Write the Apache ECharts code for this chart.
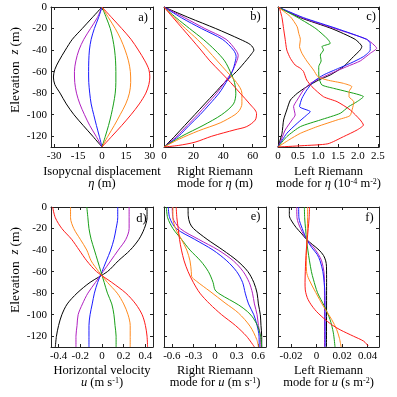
<!DOCTYPE html>
<html>
<head>
<meta charset="utf-8">
<script src="https://cdn.jsdelivr.net/npm/echarts@6/dist/echarts.min.js"></script>
<style>
  html, body { margin: 0; padding: 0; background: #fff; }
  #chart { width: 397px; height: 397px; }
</style>
</head>
<body>
<div id="chart"></div>
<script>
// every curve is a list of [value, elevation z (m)], ordered black, purple, blue, green, orange, red
const depthTicks = [0, -20, -40, -60, -80, -100, -120];
const dispTicks = [-30, -15, 0, 15, 30];
const rightEtaTicks = [0, 20, 40, 60];
const leftEtaTicks = [0, 0.5, 1.0, 1.5, 2.0, 2.5];
const velTicks = [-0.4, -0.2, 0, 0.2, 0.4];
const rightUTicks = [-0.6, -0.3, 0, 0.3, 0.6];
const leftUTicks = [-0.02, 0, 0.02, 0.04];

// a) isopycnal displacement eta (m)
const isopycnalDisp = [
  [[0,0],[-6.2,-10],[-12.4,-20],[-18.6,-30],[-23,-40],[-27,-50],[-29.6,-58],[-30.5,-65],[-29.6,-72],[-26.3,-80],[-22.4,-90],[-17.6,-100],[-11.8,-110],[-5.8,-120],[0,-130]],
  [[0,0],[-3,-10],[-7.2,-20],[-11.4,-30],[-14.5,-40],[-16.4,-50],[-17.3,-60],[-17.1,-70],[-16,-80],[-13.9,-90],[-11,-100],[-7.7,-110],[-3.7,-120],[0,-130]],
  [[0,0],[-2.2,-10],[-4.8,-20],[-6.8,-30],[-7.9,-40],[-8.3,-50],[-8.4,-60],[-8.3,-70],[-7.7,-80],[-6.8,-90],[-5.2,-100],[-3.5,-110],[-1.7,-120],[0,-130]],
  [[0,0],[2.7,-10],[5.2,-20],[6.8,-30],[7.9,-40],[8.5,-50],[8.7,-60],[8.7,-70],[8.3,-80],[7.2,-90],[5.8,-100],[4.1,-110],[2.1,-120],[0,-130]],
  [[0,0],[4.1,-10],[8.3,-20],[11.8,-30],[14.5,-40],[16.6,-50],[17.8,-60],[18,-70],[17.2,-80],[14.9,-90],[11.4,-100],[7.7,-110],[3.7,-120],[0,-130]],
  [[0,0],[6.2,-10],[12.4,-20],[18.2,-30],[22.8,-40],[26.9,-50],[29.4,-58],[30,-65],[29.4,-72],[27.5,-80],[23.4,-90],[18.2,-100],[12.4,-110],[6.2,-120],[0,-130]]
];

// b) right Riemann mode for eta (m)
const rightEta = [
  [[0,0],[17,-10],[35,-20],[51.5,-30],[58.5,-35],[60.8,-40],[59.5,-43],[56,-49],[49,-60],[41,-70],[34.3,-80],[27.5,-90],[20.8,-100],[14,-110],[7.3,-120],[0,-130]],
  [[0,0],[14,-10],[27.6,-20],[42,-30],[48.5,-40],[50.2,-45],[49.3,-50],[46,-60],[41,-70],[35.7,-80],[29.2,-90],[22.8,-100],[15.7,-110],[8.7,-120],[0,-130]],
  [[0,0],[11.8,-10],[25.3,-20],[39.5,-30],[47,-40],[48.8,-46],[48.3,-50],[46.2,-60],[42,-70],[37.3,-80],[31,-90],[24.4,-100],[17,-110],[9.8,-120],[0,-130]],
  [[0,0],[8.2,-10],[17.3,-20],[26.5,-30],[34.5,-40],[41,-50],[44.8,-60],[47.7,-70],[48.6,-80],[47,-90],[39,-100],[26.4,-110],[12,-120],[0,-130]],
  [[0,0],[7,-10],[14.5,-20],[22.5,-30],[29.5,-40],[36,-50],[42.5,-60],[49,-70],[52.7,-80],[52.7,-90],[51,-96],[48,-100],[38,-107.6],[23.3,-115],[9.8,-123],[0,-130]],
  [[0,0],[6.2,-10],[12.5,-20],[18.8,-30],[25,-40],[31,-50],[38,-60],[45,-70],[51.5,-80],[58,-90],[62.6,-99],[61.7,-105],[56,-111],[48,-114],[32.3,-120],[21,-125.5],[10,-128.5],[0,-130]]
];

// c) left Riemann mode for eta (1e-4 m^-2)
const leftEta = [
  [[0,0],[0.56,-9.9],[1.35,-20.1],[1.93,-30],[2.1,-36.8],[2.06,-39.9],[1.89,-46.1],[1.64,-55.4],[1.31,-63.1],[1.02,-67.8],[0.72,-74],[0.48,-80.2],[0.31,-86.4],[0.22,-95.6],[0.14,-104.9],[0.1,-117.3],[0,-130]],
  [[0,0],[0.6,-9.9],[1.43,-20.1],[2.22,-30],[2.47,-38.4],[2.31,-43],[2.06,-50.1],[1.72,-55.4],[1.43,-60],[1.06,-66.2],[0.81,-70.9],[0.64,-77.1],[0.48,-86.4],[0.39,-92.5],[0.43,-100.3],[0.35,-104.9],[0.18,-114.2],[0.08,-123.5],[0,-130]],
  [[0,0],[0.64,-9.9],[1.48,-20.1],[2.22,-30],[2.31,-33.7],[2.31,-39.9],[2.14,-46.1],[1.81,-52.3],[1.52,-56.9],[1.14,-63.1],[0.89,-69.3],[0.72,-77.1],[0.6,-84.8],[0.54,-92.5],[0.81,-97.2],[0.72,-100.3],[0.48,-108],[0.22,-117.3],[0,-130]],
  [[0,0],[0.5,-9.9],[0.95,-20.1],[1.25,-30],[1.31,-33.7],[1.1,-36.8],[1.14,-39.9],[1.06,-44.6],[1.08,-50.1],[1.02,-55.4],[1.02,-60],[1.03,-66.2],[1.1,-72.4],[1.39,-75.5],[1.73,-78.6],[2.14,-83.3],[1.98,-87.9],[1.77,-92.5],[1.56,-98.7],[1.06,-104.9],[0.56,-111.1],[0.22,-120.4],[0,-130]],
  [[0,0],[0.31,-9],[0.48,-18.3],[0.52,-24.5],[0.56,-30],[0.54,-36.8],[0.6,-43],[0.72,-50.1],[0.89,-58.5],[1.0,-64.7],[1.23,-67.8],[1.64,-70.9],[1.85,-74],[1.78,-78.6],[1.78,-83.3],[1.9,-88],[1.86,-95],[1.8,-101],[1.48,-104.9],[0.98,-111.1],[0.56,-117.3],[0.27,-123.5],[0,-130]],
  [[0.03,0],[0.1,-9.9],[0.14,-20.1],[0.18,-30],[0.22,-39.9],[0.31,-47.7],[0.43,-53.9],[0.56,-56.9],[0.64,-60],[0.72,-67.8],[0.85,-74],[1.14,-83.3],[1.48,-87.9],[1.81,-95.6],[2.06,-104.9],[2.14,-109.6],[1.98,-114.2],[1.64,-120.4],[1.25,-127],[0.6,-128.8],[0,-130]]
];

// d) horizontal velocity u (m/s)
const horizVel = [
  [[0.415,0],[0.415,-10],[0.39,-20],[0.34,-30],[0.26,-40],[0.15,-50],[0.05,-60],[-0.11,-70],[-0.23,-80],[-0.32,-90],[-0.37,-100],[-0.4,-110],[-0.42,-120],[-0.43,-130]],
  [[0.25,0],[0.25,-10],[0.25,-20],[0.22,-30],[0.15,-40],[0.08,-50],[0.01,-60],[-0.06,-70],[-0.13,-80],[-0.18,-90],[-0.22,-100],[-0.23,-110],[-0.24,-120],[-0.24,-130]],
  [[0.145,0],[0.145,-10],[0.13,-20],[0.11,-30],[0.08,-40],[0.04,-50],[0,-60],[-0.04,-70],[-0.07,-80],[-0.09,-90],[-0.11,-100],[-0.12,-110],[-0.12,-120],[-0.12,-130]],
  [[-0.14,0],[-0.13,-10],[-0.12,-20],[-0.1,-30],[-0.07,-40],[-0.04,-50],[-0.01,-60],[0.02,-70],[0.05,-80],[0.09,-90],[0.11,-100],[0.12,-110],[0.13,-120],[0.13,-130]],
  [[-0.29,0],[-0.29,-10],[-0.26,-20],[-0.2,-30],[-0.14,-40],[-0.1,-50],[-0.03,-60],[0.05,-70],[0.14,-80],[0.2,-90],[0.24,-100],[0.26,-110],[0.26,-120],[0.26,-130]],
  [[-0.455,0],[-0.43,-10],[-0.37,-20],[-0.28,-30],[-0.21,-40],[-0.14,-50],[-0.05,-60],[0.09,-70],[0.22,-80],[0.31,-90],[0.37,-100],[0.4,-110],[0.415,-120],[0.42,-130]]
];

// e) right Riemann mode for u (m/s)
const rightU = [
  [[-0.375,0],[-0.373,-8],[-0.35,-15],[-0.3,-20],[-0.11,-30],[0.11,-40],[0.311,-50],[0.458,-60],[0.54,-70],[0.586,-80],[0.604,-90],[0.631,-100],[0.64,-110],[0.65,-120],[0.65,-130]],
  [[-0.595,0],[-0.586,-10],[-0.485,-20],[-0.229,-30],[0.046,-40],[0.256,-50],[0.393,-60],[0.476,-70],[0.522,-80],[0.549,-90],[0.586,-100],[0.604,-110],[0.631,-120],[0.631,-130]],
  [[-0.65,0],[-0.631,-10],[-0.54,-20],[-0.284,-30],[-0.027,-40],[0.165,-50],[0.302,-60],[0.384,-70],[0.421,-80],[0.467,-90],[0.54,-100],[0.586,-110],[0.613,-120],[0.615,-130]],
  [[-0.677,0],[-0.659,-10],[-0.586,-20],[-0.467,-30],[-0.348,-40],[-0.201,-50],[-0.092,-60],[-0.027,-70],[0,-77],[0.07,-81],[0.2,-86],[0.33,-91],[0.45,-97],[0.52,-102],[0.59,-110],[0.635,-120],[0.65,-130]],
  [[-0.586,0],[-0.586,-10],[-0.549,-20],[-0.467,-30],[-0.393,-40],[-0.348,-50],[-0.33,-60],[-0.326,-64.4],[-0.256,-69],[-0.07,-78.3],[0.14,-89.1],[0.326,-98.4],[0.489,-110.8],[0.582,-123.2],[0.605,-130]],
  [[-0.54,0],[-0.531,-10],[-0.512,-20],[-0.494,-30],[-0.467,-40],[-0.43,-50],[-0.375,-60],[-0.302,-70],[-0.21,-80],[-0.073,-90],[0.092,-100],[0.284,-110],[0.439,-120],[0.549,-130]]
];

// f) left Riemann mode for u (s m^-2)
const leftU = [
  [[-0.0213,0],[-0.0213,-8],[-0.0195,-13],[-0.016,-19],[-0.0115,-25],[-0.0076,-30.4],[-0.003,-35],[0.002,-40],[0.0055,-45],[0.0072,-50],[0.0078,-55],[0.0079,-70],[0.0078,-130]],
  [[-0.0155,0],[-0.0153,-10],[-0.0125,-20],[-0.0076,-30.4],[-0.002,-38],[0.0015,-44],[0.004,-50],[0.0058,-60],[0.0062,-70],[0.0063,-130]],
  [[-0.014,0],[-0.0138,-10],[-0.0112,-20],[-0.0076,-30.4],[-0.0035,-38],[0.0005,-44],[0.0028,-50],[0.005,-60],[0.006,-70],[0.0066,-80],[0.0068,-130]],
  [[-0.0095,0],[-0.0093,-10],[-0.0086,-20],[-0.0078,-30.4],[-0.0068,-40],[-0.0055,-50],[-0.004,-60],[-0.0025,-67],[0.0008,-79.6],[0.0061,-92],[0.0106,-104.5],[0.0132,-116.9],[0.0145,-130]],
  [[-0.007,0],[-0.007,-10],[-0.0072,-20],[-0.0075,-30.4],[-0.0078,-40],[-0.008,-50],[-0.0078,-60],[-0.006,-67],[-0.0005,-79.6],[0.0053,-92],[0.0119,-104.5],[0.0158,-113.8],[0.018,-122],[0.0193,-130]],
  [[-0.0055,0],[-0.0058,-10],[-0.0065,-20],[-0.0073,-30.4],[-0.008,-40],[-0.0085,-50],[-0.0088,-60],[-0.009,-70],[-0.0088,-77],[-0.0066,-86],[-0.0013,-95.3],[0.0053,-103],[0.0119,-109.3],[0.0185,-114],[0.029,-120],[0.037,-124.6],[0.0405,-129]]
];

const curveColors = ['#000000', '#b020c0', '#1a1aff', '#18a018', '#ff8a1e', '#ff1a1a'];
const serif = '"Liberation Serif", "Times New Roman", serif';
const frameColor = '#222';

const panels = [
  { curves: isopycnalDisp, min: -32, max: 32, ticks: dispTicks, box: [51, 7, 102, 140], letter: 'a)', lp: [143, 18], smooth: 0.3,
    t1: 'Isopycnal displacement', t2: '{i|η} (m)' },
  { curves: rightEta, min: 0, max: 69, ticks: rightEtaTicks, box: [164, 7, 102, 140], letter: 'b)', lp: [255.5, 17], smooth: 0.3,
    t1: 'Right Riemann', t2: 'mode for {i|η} (m)' },
  { curves: leftEta, min: 0, max: 2.53, ticks: leftEtaTicks, box: [278, 7, 101, 140], letter: 'c)', lp: [371, 17], smooth: 0.2,
    fmt: v => (v === 0 ? '0' : v.toFixed(1)),
    t1: 'Left Riemann', t2: 'mode for {i|η} (10{s|-4} m{s|-2})' },
  { curves: horizVel, min: -0.47, max: 0.47, ticks: velTicks, box: [51, 207, 102, 140], letter: 'd)', lp: [141.5, 219], smooth: 0.3,
    t1: 'Horizontal velocity', t2: '{i|u} (m s{s|-1})' },
  { curves: rightU, min: -0.71, max: 0.71, ticks: rightUTicks, box: [164, 207, 102, 140], letter: 'e)', lp: [255.5, 217], smooth: 0.3,
    t1: 'Right Riemann', t2: 'mode for {i|u} (m s{s|-1})' },
  { curves: leftU, min: -0.0302, max: 0.049, ticks: leftUTicks, box: [278, 207, 101, 140], letter: 'f)', lp: [369.5, 218], smooth: 0.3,
    t1: 'Left Riemann', t2: 'mode for {i|u} (s m{s|-2})' }
];

const rich = {
  i: { fontFamily: serif, fontSize: 12.5, fontStyle: 'italic' },
  s: { fontFamily: serif, fontSize: 8, verticalAlign: 'top' }
};

function txt(x, y, text, size, extra) {
  return Object.assign({
    type: 'text', x: x, y: y, silent: true,
    style: { text: text, rich: rich, fontFamily: serif, fontSize: size, fill: '#000', align: 'center', verticalAlign: 'middle' }
  }, extra || {});
}

var grids = [], xAxes = [], yAxes = [], series = [], graphics = [];

panels.forEach(function (p, k) {
  grids.push({ left: p.box[0], top: p.box[1], width: p.box[2], height: p.box[3], outerBoundsMode: 'none' });
  var line = { onZero: false, lineStyle: { color: frameColor, width: 1 } };
  var tick = function (vals) { return { inside: true, length: 3, customValues: vals, lineStyle: { color: frameColor, width: 1 } }; };
  var lab = { fontFamily: serif, fontSize: 11, color: '#000', margin: 4 };

  xAxes.push({
    gridIndex: k, type: 'value', min: p.min, max: p.max, position: 'bottom',
    axisLine: line, axisTick: tick(p.ticks), splitLine: { show: false },
    axisLabel: Object.assign({ customValues: p.ticks, formatter: p.fmt || (v => String(v)) }, lab)
  });
  xAxes.push({
    gridIndex: k, type: 'value', min: p.min, max: p.max, position: 'top',
    axisLine: line, axisTick: tick(p.ticks), splitLine: { show: false }, axisLabel: { show: false }
  });
  yAxes.push({
    gridIndex: k, type: 'value', min: -130, max: 0, position: 'left',
    axisLine: line, axisTick: tick(depthTicks), splitLine: { show: false },
    axisLabel: Object.assign({ show: k % 3 === 0, customValues: depthTicks }, lab)
  });
  yAxes.push({
    gridIndex: k, type: 'value', min: -130, max: 0, position: 'right',
    axisLine: line, axisTick: tick(depthTicks), splitLine: { show: false }, axisLabel: { show: false }
  });

  p.curves.forEach(function (c, j) {
    series.push({
      type: 'line', xAxisIndex: 2 * k, yAxisIndex: 2 * k, data: c,
      showSymbol: false, smooth: p.smooth, silent: true,
      lineStyle: { width: 1, color: curveColors[j] }, itemStyle: { color: curveColors[j] }
    });
  });

  var cx = p.box[0] + p.box[2] / 2;
  var row = p.box[1] > 100 ? 200 : 0;
  graphics.push(txt(p.lp[0], p.lp[1], p.letter, 12.5));
  graphics.push(txt(cx, 172 + row - (row ? 1 : 0), p.t1, 12.5));
  graphics.push(txt(cx, 184 + row - (row ? 1 : 0), p.t2, 12.5));
});

// shared depth titles
graphics.push(txt(15, 70, 'Elevation  {i|z} (m)', 13.5, { rotation: Math.PI / 2 }));
graphics.push(txt(15, 270, 'Elevation  {i|z} (m)', 13.5, { rotation: Math.PI / 2 }));

var myChart = echarts.init(document.getElementById('chart'));
myChart.setOption({
  animation: false,
  backgroundColor: '#fff',
  grid: grids,
  xAxis: xAxes,
  yAxis: yAxes,
  series: series,
  graphic: graphics
});
</script>
</body>
</html>
